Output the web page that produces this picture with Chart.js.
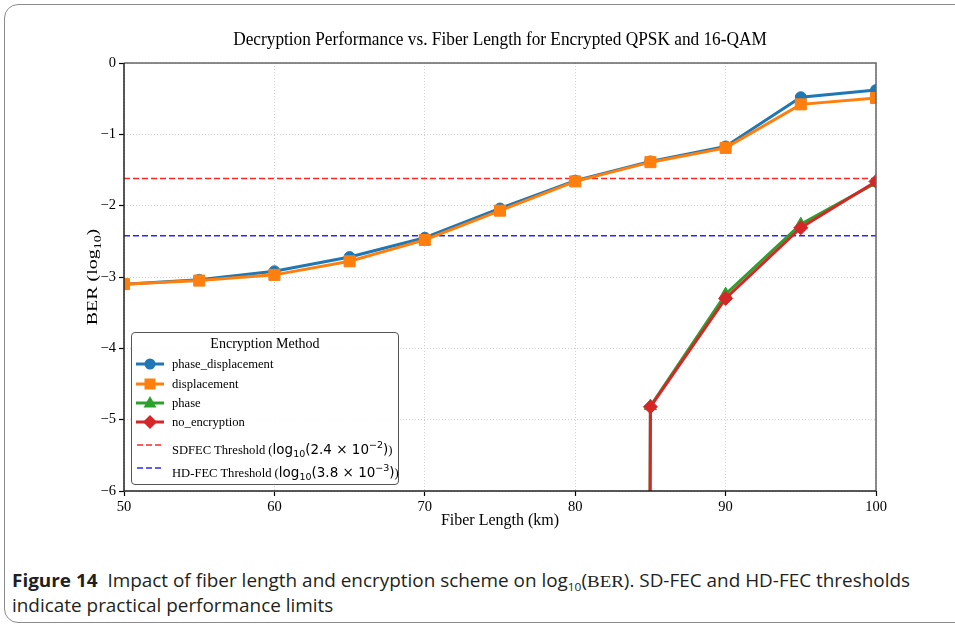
<!DOCTYPE html>
<html lang="en">
<head>
<meta charset="UTF-8">
<title>Decryption Performance vs. Fiber Length</title>
<script src="https://cdn.jsdelivr.net/npm/chart.js"></script>
<style>
  html, body { margin: 0; padding: 0; background: #fff; overflow: hidden; }
  #page { position: relative; width: 955px; height: 627px; overflow: hidden; }
  #card { position: absolute; left: 4px; top: 4px; width: 1000px; height: 617px;
          border: 1.5px solid #8c8c8c; border-radius: 14px; }
  #chart { position: absolute; left: 0; top: 0; }
  #legend { position: absolute; box-sizing: border-box; border: 1px solid #555; border-radius: 4px;
            background: rgba(255,255,255,0.9); font-family: "Liberation Serif", serif; color: #000; }
  #legend .row { position: absolute; left: 0; right: 0; height: 20px; line-height: 20px; font-size: 12.6px; white-space: nowrap; }
  #legend .row svg { position: absolute; left: 2px; top: 0; }
  #legend .row span.lbl { position: absolute; left: 40px; top: 0; }
  #legend .ttl { position: absolute; left: 0; right: 0; top: 1px; text-align: center; font-size: 14px; line-height: 20px; }
  .m { font-family: "DejaVu Sans", sans-serif; font-size: 13.5px; }
  .m sub { font-size: 9.5px; vertical-align: -3px; }
  .m sup { font-size: 9.5px; vertical-align: 6px; }
  #caption { position: absolute; left: 12px; top: 568px; font-family: "Open Sans", sans-serif; font-size: 17.5px;
             line-height: 24px; color: #231f20; white-space: nowrap; transform-origin: 0 0; }
  #caption sub { font-size: 11px; vertical-align: -4px; line-height: 0; }
  #caption .serif { font-family: "Liberation Serif", serif; font-size: 17.5px; }
</style>
</head>
<body>
<div id="page">
  <div id="card"></div>
  <canvas id="chart" width="955" height="530"></canvas>
  <div id="legend"></div>
  <div id="caption"><span id="cap1"><b>Figure 14</b>&nbsp; Impact of fiber length and encryption scheme on log<sub>10</sub>(<span class="serif">BER</span>). SD-FEC and HD-FEC thresholds</span><br>indicate practical performance limits</div>
</div>
<script>
// x values (km)
const fiberLength = [50, 55, 60, 65, 70, 75, 80, 85, 90, 95, 100];
// log10(BER) per encryption method
const phaseDisplacement = [-3.10, -3.04, -2.92, -2.72, -2.45, -2.04, -1.65, -1.38, -1.17, -0.48, -0.38];
const displacement      = [-3.10, -3.05, -2.97, -2.78, -2.48, -2.07, -1.66, -1.39, -1.19, -0.58, -0.49];
// BER is 0 up to 80 km, so log10 drops far below the axis
const OFF_AXIS = -300;
const phase        = [null, null, null, null, null, null, OFF_AXIS, -4.81, -3.24, -2.26, -1.68];
const noEncryption = [null, null, null, null, null, null, OFF_AXIS, -4.82, -3.30, -2.31, -1.66];
// FEC thresholds
const sdfecThreshold = Math.log10(2.4e-2);
const hdfecThreshold = Math.log10(3.8e-3);
// tick labels
const xTicks = [50, 60, 70, 80, 90, 100];
const yTicks = [0, -1, -2, -3, -4, -5, -6];

const serif = '"Liberation Serif", "Times New Roman", serif';

function pts(values) {
    return fiberLength.map((x, i) => ({ x: x, y: values[i] }));
}
function hline(v) {
    return [{ x: 50, y: v }, { x: 100, y: v }];
}

const series = [
    { label: 'phase_displacement', data: phaseDisplacement, color: '#1f77b4', style: 'circle', r: 5.5, order: 4 },
    { label: 'displacement', data: displacement, color: '#ff7f0e', style: 'rect', r: 7.8, order: 3 },
    { label: 'phase', data: phase, color: '#2ca02c', style: 'triangle', r: 7, order: 2 },
    { label: 'no_encryption', data: noEncryption, color: '#d62728', style: 'rectRot', r: 7, order: 1 }
];

const datasets = series.map(s => ({
    label: s.label,
    data: pts(s.data),
    borderColor: s.color,
    backgroundColor: s.color,
    borderWidth: 3,
    pointStyle: s.style,
    pointRadius: s.r,
    pointBorderWidth: 1,
    order: s.order
}));
datasets.push({
    label: 'SDFEC', data: hline(sdfecThreshold), borderColor: 'rgba(255,0,0,0.85)',
    borderWidth: 1.5, borderDash: [6, 3], pointRadius: 0, order: 5
});
datasets.push({
    label: 'HD-FEC', data: hline(hdfecThreshold), borderColor: 'rgba(0,0,255,0.85)',
    borderWidth: 1.5, borderDash: [6, 3], pointRadius: 0, order: 6
});

// title, y axis title and plot frame
const decor = {
    id: 'decor',
    afterDatasetsDraw(chart) {
        const { ctx, chartArea: a } = chart;
        ctx.save();
        ctx.lineWidth = 1.5;
        ctx.strokeStyle = '#666';
        ctx.beginPath();
        ctx.moveTo(a.left, a.top); ctx.lineTo(a.right, a.top); ctx.lineTo(a.right, a.bottom);
        ctx.stroke();
        ctx.strokeStyle = '#222';
        ctx.beginPath();
        ctx.moveTo(a.left, a.top); ctx.lineTo(a.left, a.bottom); ctx.lineTo(a.right, a.bottom);
        ctx.stroke();
        ctx.restore();
    },
    afterDraw(chart) {
        const { ctx, chartArea: a } = chart;
        ctx.save();
        ctx.fillStyle = '#000';
        ctx.textAlign = 'center';
        ctx.textBaseline = 'middle';
        ctx.translate((a.left + a.right) / 2, 40);
        ctx.scale(1, 1.12);
        ctx.font = '17.3px ' + serif;
        ctx.fillText('Decryption Performance vs. Fiber Length for Encrypted QPSK and 16-QAM', 0, 0);
        ctx.restore();

        // y title, stretched along its length like the reference
        ctx.save();
        ctx.fillStyle = '#000';
        ctx.translate(92, (a.top + a.bottom) / 2);
        ctx.rotate(-Math.PI / 2);
        ctx.scale(1.33, 1);
        ctx.textAlign = 'left';
        ctx.textBaseline = 'alphabetic';
        const big = '15px ' + serif, small = '10.5px ' + serif;
        ctx.font = big; const w1 = ctx.measureText('BER (log').width; const w3 = ctx.measureText(')').width;
        ctx.font = small; const w2 = ctx.measureText('10').width;
        let x = -(w1 + w2 + w3) / 2;
        ctx.font = big; ctx.fillText('BER (log', x, 5); x += w1;
        ctx.font = small; ctx.fillText('10', x, 9); x += w2;
        ctx.font = big; ctx.fillText(')', x, 5);
        ctx.restore();
    }
};

const minus = v => (v < 0 ? '\u2212' + Math.abs(v) : String(v));

const chart = new Chart(document.getElementById('chart').getContext('2d'), {
    type: 'line',
    data: { datasets: datasets },
    options: {
        responsive: false,
        animation: false,
        devicePixelRatio: 1,
        layout: { padding: { left: 0, right: 79, top: 63, bottom: 0 } },
        plugins: { legend: { display: false }, title: { display: false }, tooltip: { enabled: false } },
        scales: {
            x: {
                type: 'linear', min: 50, max: 100,
                afterBuildTicks: s => { s.ticks = xTicks.map(v => ({ value: v })); },
                afterFit: s => { s.height = 39; },
                grid: { color: '#d0d0d0', lineWidth: 1, tickColor: '#000', tickLength: 5, tickWidth: 1.2, tickBorderDash: [] },
                border: { display: false, dash: [1, 2] },
                ticks: { color: '#000', font: { family: serif, size: 14.5 }, padding: 2, maxRotation: 0, callback: v => minus(v) },
                title: { display: true, text: 'Fiber Length (km)', color: '#000', font: { family: serif, size: 16 }, padding: 0 }
            },
            y: {
                type: 'linear', min: -6, max: 0,
                afterBuildTicks: s => { s.ticks = yTicks.map(v => ({ value: v })); },
                afterFit: s => { s.width = 124; },
                grid: { color: '#d0d0d0', lineWidth: 1, tickColor: '#000', tickLength: 5, tickWidth: 1.2, tickBorderDash: [] },
                border: { display: false, dash: [1, 2] },
                ticks: { color: '#000', font: { family: serif, size: 14.5 }, padding: 3, callback: v => minus(v) }
            }
        }
    },
    plugins: [decor]
});

// legend box inside the plot, lower left
function markerSvg(s) {
    const c = s.color, cx = 16, cy = 10;
    let m = '';
    if (s.style === 'circle') m = `<circle cx="${cx}" cy="${cy}" r="5.5" fill="${c}"/>`;
    if (s.style === 'rect') m = `<rect x="${cx - 5.5}" y="${cy - 5.5}" width="11" height="11" fill="${c}"/>`;
    if (s.style === 'triangle') m = `<polygon points="${cx},${cy - 7} ${cx + 6.5},${cy + 4.5} ${cx - 6.5},${cy + 4.5}" fill="${c}"/>`;
    if (s.style === 'rectRot') m = `<polygon points="${cx},${cy - 7} ${cx + 7},${cy} ${cx},${cy + 7} ${cx - 7},${cy}" fill="${c}"/>`;
    return `<svg width="32" height="20"><line x1="2" y1="${cy}" x2="30" y2="${cy}" stroke="${c}" stroke-width="3"/>${m}</svg>`;
}
function dashSvg(c) {
    return `<svg width="32" height="20"><line x1="3" y1="10" x2="29" y2="10" stroke="${c}" stroke-width="1.5" stroke-dasharray="6 3"/></svg>`;
}
const a = chart.chartArea;
const legend = document.getElementById('legend');
legend.style.left = (a.left + 7) + 'px';
legend.style.top = (a.bottom - 159) + 'px';
legend.style.width = '268px';
legend.style.height = '153px';
const rowCenters = [31, 51, 70, 89, 112, 135];
let html = '<div class="ttl">Encryption Method</div>';
series.forEach((s, i) => {
    html += `<div class="row" style="top:${rowCenters[i] - 10}px">${markerSvg(s)}<span class="lbl">${s.label}</span></div>`;
});
html += `<div class="row" style="top:${rowCenters[4] - 10}px">${dashSvg('rgba(255,0,0,0.85)')}<span class="lbl">SDFEC Threshold (<span class="m">log<sub>10</sub>(2.4 × 10<sup>−2</sup>)</span>)</span></div>`;
html += `<div class="row" style="top:${rowCenters[5] - 10}px">${dashSvg('rgba(0,0,255,0.85)')}<span class="lbl">HD-FEC Threshold (<span class="m">log<sub>10</sub>(3.8 × 10<sup>−3</sup>)</span>)</span></div>`;
legend.innerHTML = html;

// caption: squeeze first line to the reference width
const cap = document.getElementById('caption');
const w = document.getElementById('cap1').getBoundingClientRect().width;
cap.style.transform = 'scaleX(' + (898 / w).toFixed(4) + ')';
</script>
</body>
</html>
